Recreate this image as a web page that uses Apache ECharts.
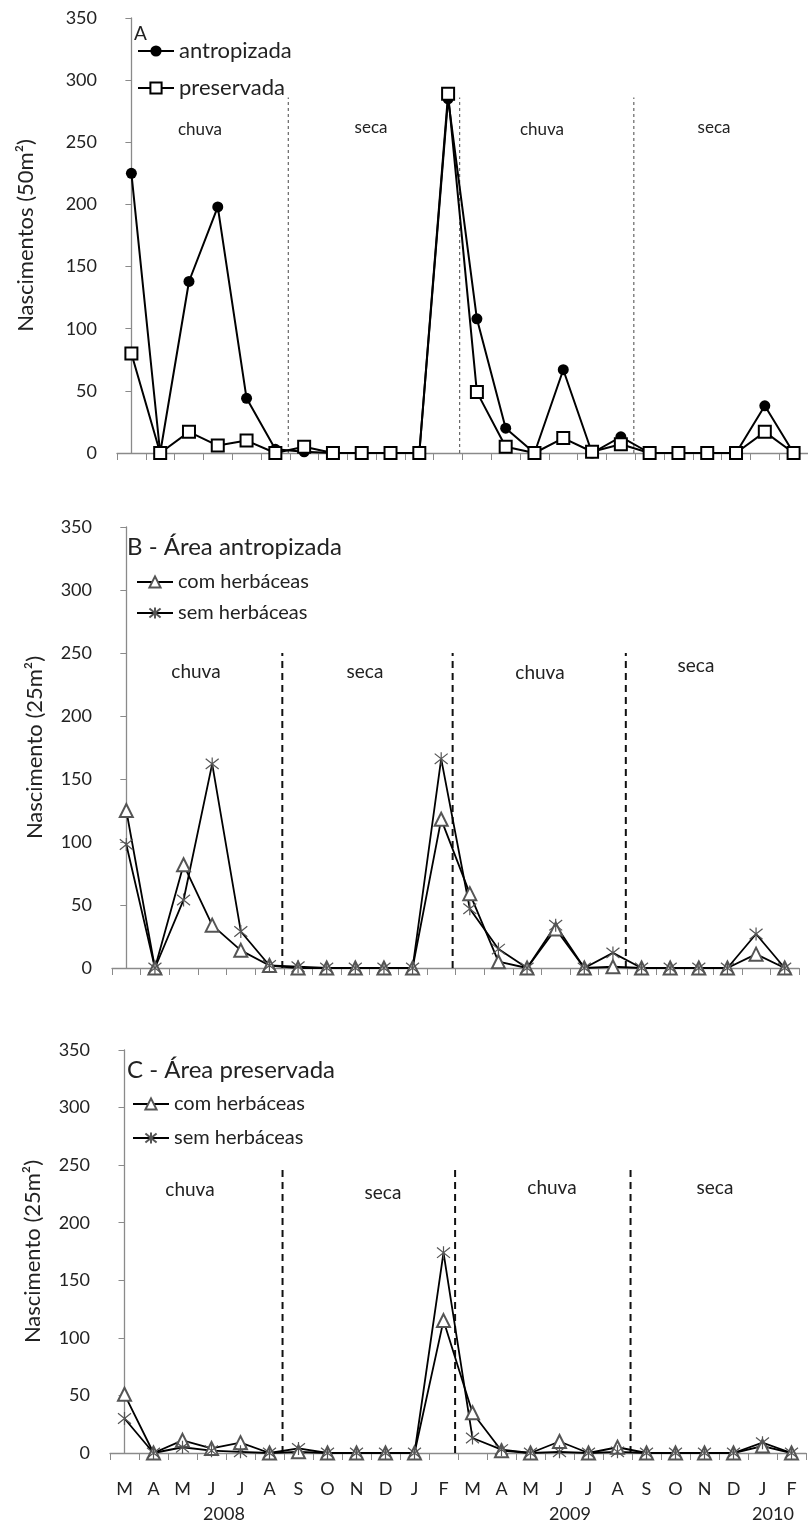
<!DOCTYPE html>
<html lang="pt">
<head>
<meta charset="UTF-8">
<title>Nascimentos</title>
<script src="https://cdn.jsdelivr.net/npm/echarts@6/dist/echarts.min.js"></script>
<style>
  html, body { margin: 0; padding: 0; background: #fff; }
</style>
</head>
<body>
<div id="ec" style="width:808px;height:1526px"></div>
<script>
// meses de mar/2008 a fev/2010
var months = ['M','A','M','J','J','A','S','O','N','D','J','F','M','A','M','J','J','A','S','O','N','D','J','F']
var years = ['2008', '2009', '2010']
var yTicks = [0, 50, 100, 150, 200, 250, 300, 350]

// A - nascimentos (50m2)
var antropizada = [225, 0, 138, 198, 44, 3, 1, 0, 0, 0, 0, 285, 108, 20, 0, 67, 0, 13, 0, 0, 0, 0, 38, 0]
var preservada  = [80, 0, 17, 6, 10, 0, 5, 0, 0, 0, 0, 289, 49, 5, 0, 12, 1, 7, 0, 0, 0, 0, 17, 0]

// B - area antropizada (25m2)
var bCom = [125, 0, 82, 34, 14, 2, 0, 0, 0, 0, 0, 118, 59, 5, 0, 31, 0, 1, 0, 0, 0, 0, 11, 0]
var bSem = [98, 0, 54, 162, 29, 2, 1, 0, 0, 0, 0, 166, 47, 15, 0, 34, 0, 12, 0, 0, 0, 0, 27, 0]

// C - area preservada (25m2)
var cCom = [51, 0, 11, 4, 9, 0, 1, 0, 0, 0, 0, 115, 35, 2, 0, 10, 0, 5, 0, 0, 0, 0, 6, 0]
var cSem = [30, 0, 5, 2, 1, 0, 4, 0, 0, 0, 0, 174, 13, 3, 0, 1, 0, 1, 0, 0, 0, 0, 9, 0]

// limites das estacoes (posicao entre meses) e altura das linhas
var seasonBreaks = [5.45, 11.4, 17.45]
var breakTop = [286, 250, 250]
var seasons = ['chuva', 'seca', 'chuva', 'seca']

var FONT = 'Lato'
var star = 'path://M0,1L10,9M10,1L0,9M5,0L5,10'

var grids = [
    {left: 117, top: 18, width: 694, height: 435},
    {left: 112, top: 527, width: 687, height: 441},
    {left: 110, top: 1050, width: 696, height: 403}
]
var yNames = ['Nascimentos (50m²)', 'Nascimento (25m²)', 'Nascimento (25m²)']
var nameGaps = [80, 66, 66]

var xAxes = []
var yAxes = []
grids.forEach(function(g, i) {
    xAxes.push({
        type: 'category',
        gridIndex: i,
        data: months.map(function(m, k) { return k }),
        axisLine: {lineStyle: {color: '#8a8a8a', width: 1.3}},
        axisTick: {show: true, length: 7, lineStyle: {color: '#8a8a8a'}},
        axisLabel: {
            show: i === 2,
            margin: 27,
            fontFamily: FONT,
            fontSize: 18,
            color: '#222',
            formatter: function(v) { return months[v] }
        },
        splitLine: {show: false}
    })
    xAxes.push({type: 'value', gridIndex: i, min: -0.5, max: 23.5, show: false})
    yAxes.push({
        type: 'value',
        gridIndex: i,
        min: 0,
        max: 350,
        interval: 50,
        name: yNames[i],
        nameLocation: 'middle',
        nameGap: nameGaps[i],
        nameTextStyle: {fontFamily: FONT, fontSize: 22, color: '#222'},
        axisLine: {show: true, lineStyle: {color: '#8a8a8a', width: 1.3}},
        axisTick: {show: true, length: 6, lineStyle: {color: '#8a8a8a'}},
        axisLabel: {margin: 20, fontFamily: FONT, fontSize: 18, color: '#222'},
        splitLine: {show: false}
    })
})

function dataSeries(name, data, panel, symbol, size, item, lw) {
    return {
        name: name,
        type: 'line',
        xAxisIndex: panel * 2,
        yAxisIndex: panel,
        data: data,
        symbol: symbol,
        symbolSize: size,
        showAllSymbol: true,
        lineStyle: {color: '#000', width: lw},
        itemStyle: item,
        emphasis: {disabled: true},
        z: 3
    }
}

var series = [
    dataSeries('antropizada', antropizada, 0, 'circle', 11, {color: '#000'}, 2),
    dataSeries('preservada', preservada, 0, 'emptyRect', 12, {color: '#000', borderWidth: 1.2}, 2),
    dataSeries('com herbáceas', bCom, 1, 'emptyTriangle', 13, {color: '#555', borderWidth: 1.1}, 1.8),
    dataSeries('sem herbáceas', bSem, 1, star, 13, {color: 'none', borderColor: '#555', borderWidth: 1.2}, 1.8),
    dataSeries('com herbáceas', cCom, 2, 'emptyTriangle', 13, {color: '#555', borderWidth: 1.1}, 1.8),
    dataSeries('sem herbáceas', cSem, 2, star, 13, {color: 'none', borderColor: '#555', borderWidth: 1.2}, 1.8)
]

// linhas tracejadas entre estacoes
grids.forEach(function(g, i) {
    seasonBreaks.forEach(function(b) {
        series.push({
            type: 'line',
            xAxisIndex: i * 2 + 1,
            yAxisIndex: i,
            data: [[b, 0], [b, breakTop[i]]],
            symbol: 'none',
            silent: true,
            lineStyle: i === 0
                ? {color: '#666', width: 1.2, type: [3, 3]}
                : {color: '#111', width: 2, type: [7, 5]},
            z: 2
        })
    })
})

// textos das estacoes e anos
var seasonPos = [
    [[200, 130], [371, 128], [542, 130], [714, 128]],
    [[196, 672], [365, 672], [540, 673], [696, 666]],
    [[190, 1190], [383, 1193], [552, 1188], [715, 1188]]
]
var seasonSize = [17, 19, 19]
var graphics = []
seasonPos.forEach(function(row, i) {
    row.forEach(function(p, k) {
        graphics.push({
            type: 'text', x: p[0], y: p[1],
            style: {text: seasons[k], fontFamily: FONT, fontSize: seasonSize[i], fill: '#222',
                    align: 'center', verticalAlign: 'middle'}
        })
    })
})
var yearX = [224, 570, 773]
years.forEach(function(y, k) {
    graphics.push({
        type: 'text', x: yearX[k], y: 1514,
        style: {text: y, fontFamily: FONT, fontSize: 18, fill: '#222', align: 'center', verticalAlign: 'middle'}
    })
})

var chart = echarts.init(document.getElementById('ec'))
chart.setOption({
    backgroundColor: '#fff',
    animation: false,
    title: [
        {text: 'A', left: 129, top: 19, textStyle: {fontFamily: FONT, fontSize: 19, fontWeight: 'normal', color: '#222'}},
        {text: 'B - Área antropizada', left: 122, top: 530, textStyle: {fontFamily: FONT, fontSize: 24, fontWeight: 'normal', color: '#222'}},
        {text: 'C - Área preservada', left: 122, top: 1053, textStyle: {fontFamily: FONT, fontSize: 24, fontWeight: 'normal', color: '#222'}}
    ],
    grid: grids,
    xAxis: xAxes,
    yAxis: yAxes,
    legend: [
        {data: ['antropizada', 'preservada'], orient: 'vertical', left: 132, top: 35, itemWidth: 36, itemHeight: 14,
         itemGap: 15, textStyle: {fontFamily: FONT, fontSize: 22, color: '#222'}, selectedMode: false},
        {data: ['com herbáceas', 'sem herbáceas'], orient: 'vertical', left: 131, top: 567, itemWidth: 36, itemHeight: 14,
         itemGap: 11, textStyle: {fontFamily: FONT, fontSize: 20, color: '#222'}, selectedMode: false},
        {data: ['com herbáceas', 'sem herbáceas'], orient: 'vertical', left: 127, top: 1089, itemWidth: 36, itemHeight: 14,
         itemGap: 14, textStyle: {fontFamily: FONT, fontSize: 20, color: '#222'}, selectedMode: false}
    ],
    graphic: graphics,
    series: series
})
</script>
</body>
</html>
